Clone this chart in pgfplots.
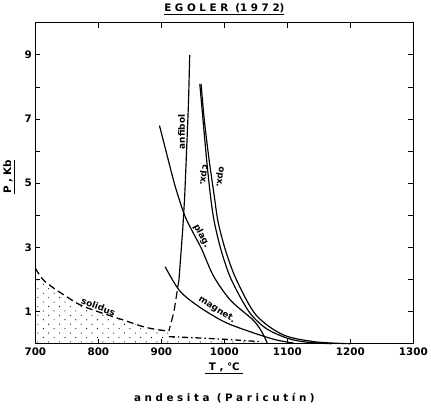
\documentclass[border=0pt]{standalone}
\usepackage{fontspec}
\setmainfont{DejaVu Sans}
\usepackage{pgfplots}
\pgfplotsset{compat=1.18}
\usetikzlibrary{patterns}
\pgfdeclarepatternformonly{sparsedots}{\pgfqpoint{-1pt}{-1pt}}{\pgfqpoint{10pt}{10pt}}{\pgfqpoint{11pt}{9pt}}{%
  \pgfpathcircle{\pgfqpoint{0pt}{0pt}}{0.6pt}\pgfpathcircle{\pgfqpoint{5.5pt}{4.5pt}}{0.6pt}\pgfusepath{fill}}
\begin{document}
\begin{tikzpicture}
\begin{axis}[
  scale only axis,
  width=384pt, height=326pt,
  xmin=700, xmax=1300, ymin=0, ymax=10,
  xtick={700,800,...,1300},
  ytick={1,2,...,9},
  yticklabels={1,,3,,5,,7,,9},
  tick align=inside,
  major tick length=5pt,
  axis line style={line width=1.2pt},
  tick style={line width=1pt, black},
  /pgf/number format/assume math mode=true,
  /pgf/number format/set thousands separator={},
  tick label style={font=\bfseries\fontsize{10.5}{12}\selectfont},
  xticklabel style={yshift=-1pt},
  title={\bfseries\underline{E G O L E R\ \ (1 9 7 2)}},
  title style={at={(axis description cs:0.5,1)}, anchor=south, yshift=-1pt, font=\fontsize{10.5}{12}\selectfont},
  xlabel={\bfseries\begin{tabular}{c}\underline{\ T , °C\ }\\[20pt] a n d e s i t a\ \ ( P a r i c u t í n )\end{tabular}},
  xlabel style={font=\fontsize{10.5}{12}\selectfont, yshift=1pt},
  ylabel={\bfseries\underline{P , Kb}},
  ylabel style={at={(axis description cs:-0.07,0.52)}, anchor=center, font=\fontsize{10.5}{12}\selectfont},
  clip=false,
]
% dotted region below solidus
\addplot[pattern=sparsedots, draw=none] coordinates {
  (700,0) (700,2.0) (705,2.0) (720,1.85) (747,1.5) (770,1.2) (799,1.0) (841,0.73) (873,0.5) (912,0.39)
  (912,0.22) (960,0.18) (1000,0.14) (1030,0.1) (1060,0.05) (1070,0)} \closedcycle;
% solidus
\addplot[line width=1.3pt, dash pattern=on 7pt off 4pt, smooth] coordinates {
  (700,2.35) (712,2.0) (730,1.72) (747,1.5) (770,1.22) (799,1.0) (841,0.73) (873,0.52) (900,0.42) (912,0.40)};
\addplot[line width=1.3pt, dash pattern=on 6pt off 3pt on 1.5pt off 3pt] coordinates {
  (912,0.22) (960,0.18) (1000,0.14) (1030,0.1) (1060,0.06)};
% anfibol
\addplot[line width=1.2pt, smooth, tension=0.4] coordinates {
  (945,9.0) (943,7.5) (940,6.0) (937,4.6) (934,3.6) (931,2.8) (928,2.0)};
\addplot[line width=1.2pt, dash pattern=on 8pt off 4pt] coordinates {
  (928,2.0) (920,1.0) (912,0.40)};
% plag
\addplot[line width=1.2pt, smooth] coordinates {
  (897,6.8) (910,5.8) (922,4.9) (937,4.0) (952,3.4) (964,2.95) (983,2.1) (1010,1.35) (1046,0.73) (1060,0.35) (1068,0.02)};
% magnet
\addplot[line width=1.2pt, smooth] coordinates {
  (906,2.4) (929,1.65) (960,1.15) (1000,0.68) (1040,0.38) (1080,0.13) (1110,0.02)};
% cpx
\addplot[line width=1.2pt, smooth] coordinates {
  (961,8.1) (966,7.0) (972,5.7) (978,4.6) (984,3.8) (995,2.9) (1011,2.0) (1039,1.0) (1066,0.48) (1100,0.17) (1130,0.05) (1170,0.0)};
% opx
\addplot[line width=1.2pt, smooth] coordinates {
  (963,8.1) (968,7.0) (976,5.7) (984,4.6) (990,3.8) (1002,2.9) (1019,2.0) (1050,0.9) (1093,0.28) (1144,0.06) (1200,0.0)};
% labels
\node[rotate=90, font=\bfseries\small] at (axis cs:932,6.6) {anfibol};
\node[rotate=-98, font=\bfseries\small] at (axis cs:966,5.25) {cpx.};
\node[rotate=-98, font=\bfseries\small] at (axis cs:992,5.2) {opx.};
\node[rotate=-62, font=\bfseries\small] at (axis cs:964,3.35) {plag.};
\node[rotate=-32, font=\bfseries\small] at (axis cs:988,1.05) {magnet.};
\node[rotate=-20, font=\bfseries\small] at (axis cs:800,1.15) {solidus};
\end{axis}
\end{tikzpicture}
\end{document}
